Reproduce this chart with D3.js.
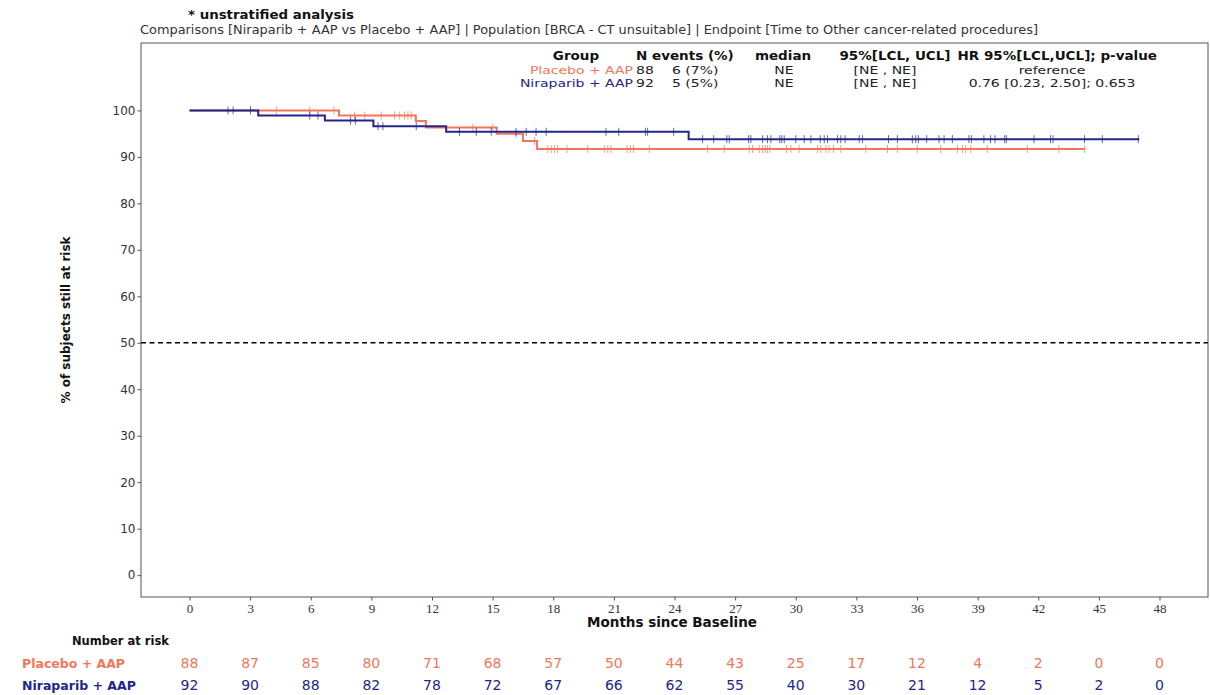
<!DOCTYPE html>
<html>
<head>
<meta charset="utf-8">
<title>Kaplan-Meier: Time to Other cancer-related procedures</title>
<script src="https://cdn.jsdelivr.net/npm/d3@7"></script>
<style>
  body { margin: 0; background: #fff; }
  svg { display: block; font-family: "DejaVu Sans", sans-serif; }
</style>
</head>
<body>
<script>
// ---- data ----
var months = [0, 3, 6, 9, 12, 15, 18, 21, 24, 27, 30, 33, 36, 39, 42, 45, 48];
var yTicks = [0, 10, 20, 30, 40, 50, 60, 70, 80, 90, 100];
var groups = ["Placebo + AAP", "Niraparib + AAP"];

var riskPlacebo   = [88, 87, 85, 80, 71, 68, 57, 50, 44, 43, 25, 17, 12, 4, 2, 0, 0];
var riskNiraparib = [92, 90, 88, 82, 78, 72, 67, 66, 62, 55, 40, 30, 21, 12, 5, 2, 0];

// step curves: event times and survival after each event (%)
var placeboTimes = [0, 7.4, 11.2, 11.7, 15.2, 16.5, 17.2];
var placeboSurv  = [100, 98.9, 97.7, 96.3, 95.0, 93.4, 91.7];
var placeboLast  = 44.3;
var niraparibTimes = [0, 3.4, 6.7, 9.1, 12.7, 24.7];
var niraparibSurv  = [100, 98.9, 97.8, 96.6, 95.4, 93.8];
var niraparibLast  = 47.0;

// censoring times
var placeboCensor = [4.3, 5.95, 7.15, 8.17, 8.67, 9.49, 10.15, 10.4, 10.64, 10.81, 10.97,
  14.02, 15.01, 16.16, 17.07, 17.73, 17.9, 18.06, 18.22, 18.68, 19.71, 20.53, 20.7, 20.86,
  21.65, 21.82, 21.98, 22.75, 25.64, 26.46, 27.7, 27.86, 28.19, 28.36, 28.49, 28.6, 28.72,
  29.54, 29.76, 30.17, 31.08, 31.24, 31.49, 31.65, 31.87, 32.23, 33.47, 34.54, 35.03, 36.02,
  37.17, 38.0, 38.25, 38.41, 38.66, 39.48, 41.46, 43.02, 44.3];
var niraparibCensor = [1.91, 2.16, 3.02, 5.95, 6.36, 7.97, 8.21, 9.33, 9.57, 11.22, 13.36,
  14.19, 14.93, 16.16, 16.66, 17.15, 17.65, 20.61, 21.24, 22.56, 22.67, 23.96, 25.39, 25.94,
  26.59, 26.71, 27.67, 27.78, 28.36, 28.6, 28.77, 29.21, 29.31, 29.43, 30.0, 30.42, 30.75,
  31.21, 31.41, 31.57, 32.07, 32.23, 32.44, 33.14, 33.3, 34.59, 35.03, 35.77, 35.94, 36.07,
  36.48, 37.09, 37.34, 37.75, 38.57, 38.69, 39.31, 39.64, 39.86, 40.34, 40.42, 41.79, 42.61,
  42.73, 44.29, 45.17, 46.95];

// summary table
var tableHeader = ["Group", "N events (%)", "median", "95%[LCL, UCL]", "HR 95%[LCL,UCL]; p-value"];
var tableN      = [88, 92];
var tableEvents = ["6 (7%)", "5 (5%)"];
var tableMedian = ["NE", "NE"];
var tableCI     = ["[NE , NE]", "[NE , NE]"];
var tableHR     = ["reference", "0.76 [0.23, 2.50]; 0.653"];

var orange = "#f2775a";
var navy = "#24248c";

var w = 1210, h = 695;
var svg = d3.select("body").append("svg").attr("width", w).attr("height", h);

var x = d3.scaleLinear().domain([-2.4, 50.4]).range([141, 1208]);
var y = d3.scaleLinear().domain([-4.7, 114.5]).range([597, 43]);

// stretch text horizontally (the reference type is wide but short)
function widen(sel, k) {
  sel.each(function() {
    var len = this.getComputedTextLength();
    d3.select(this).attr("textLength", len * k).attr("lengthAdjust", "spacingAndGlyphs");
  });
}

// frame
svg.append("rect")
  .attr("x", x.range()[0]).attr("y", y.range()[1])
  .attr("width", x.range()[1] - x.range()[0]).attr("height", y.range()[0] - y.range()[1])
  .attr("fill", "none").attr("stroke", "#555").attr("stroke-width", 1);

// axes
var yAxis = svg.append("g").attr("transform", "translate(" + x.range()[0] + ",0)")
  .call(d3.axisLeft(y).tickValues(yTicks).tickSize(3.5).tickPadding(2));
yAxis.select(".domain").remove();
yAxis.selectAll("text").attr("font-family", "DejaVu Sans").attr("font-size", 12).attr("fill", "#333");
yAxis.selectAll("line").attr("stroke", "#555");

var xAxis = svg.append("g").attr("transform", "translate(0," + y.range()[0] + ")")
  .call(d3.axisBottom(x).tickValues(months).tickSize(3.5).tickPadding(3));
xAxis.select(".domain").remove();
xAxis.selectAll("text").attr("font-family", "Liberation Serif").attr("font-size", 13).attr("fill", "#333");
xAxis.selectAll("line").attr("stroke", "#555");

// 50% reference line
svg.append("line")
  .attr("x1", x.range()[0]).attr("x2", x.range()[1])
  .attr("y1", y(50)).attr("y2", y(50))
  .attr("stroke", "#000").attr("stroke-width", 1.5).attr("stroke-dasharray", "5,3.5");

// KM step curves
function stepData(times, surv, last) {
  var pts = times.map(function(t, i) { return [t, surv[i]]; });
  pts.push([last, surv[surv.length - 1]]);
  return pts;
}
function survAt(times, surv, t) {
  var v = surv[0];
  for (var i = 0; i < times.length; i++) { if (times[i] <= t) v = surv[i]; }
  return v;
}
var line = d3.line().x(function(d) { return x(d[0]); }).y(function(d) { return y(d[1]); })
  .curve(d3.curveStepAfter);

var curves = [
  { times: placeboTimes, surv: placeboSurv, last: placeboLast, censor: placeboCensor, color: orange },
  { times: niraparibTimes, surv: niraparibSurv, last: niraparibLast, censor: niraparibCensor, color: navy }
];

curves.forEach(function(c) {
  svg.append("path")
    .datum(stepData(c.times, c.surv, c.last))
    .attr("d", line)
    .attr("fill", "none").attr("stroke", c.color).attr("stroke-width", 2);
  svg.append("g").selectAll("line")
    .data(c.censor)
    .enter().append("line")
    .attr("x1", function(d) { return x(d); }).attr("x2", function(d) { return x(d); })
    .attr("y1", function(d) { return y(survAt(c.times, c.surv, d)) - 4; })
    .attr("y2", function(d) { return y(survAt(c.times, c.surv, d)) + 4; })
    .attr("stroke", c.color).attr("stroke-width", 1).attr("opacity", 0.7);
});

// titles
svg.append("text").attr("x", 188).attr("y", 19)
  .attr("font-size", 11.5).attr("font-weight", "bold").attr("fill", "#111")
  .attr("textLength", 166).attr("lengthAdjust", "spacingAndGlyphs")
  .text("* unstratified analysis");
svg.append("text").attr("x", 140).attr("y", 34)
  .attr("font-size", 12).attr("fill", "#333")
  .attr("textLength", 898).attr("lengthAdjust", "spacingAndGlyphs")
  .text("Comparisons [Niraparib + AAP vs Placebo + AAP] | Population [BRCA - CT unsuitable] | Endpoint [Time to Other cancer-related procedures]");

// summary table (top right)
var hdr = svg.append("g").attr("font-size", 12).attr("font-weight", "bold").attr("fill", "#111");
var hdrX = [576, 636, 783, 895, 1157];
var hdrAnchor = ["middle", "start", "middle", "middle", "end"];
tableHeader.forEach(function(t, i) {
  hdr.append("text").attr("x", hdrX[i]).attr("y", 60).attr("text-anchor", hdrAnchor[i]).text(t);
});
widen(hdr.selectAll("text"), 1.125);

var rowY = [74, 86.5];
[orange, navy].forEach(function(col, r) {
  var g = svg.append("g").attr("font-size", 11).attr("fill", "#222");
  g.append("text").attr("x", 633).attr("y", rowY[r]).attr("text-anchor", "end").attr("fill", col).text(groups[r]);
  g.append("text").attr("x", 636).attr("y", rowY[r]).text(tableN[r]);
  g.append("text").attr("x", 672).attr("y", rowY[r]).text(tableEvents[r]);
  g.append("text").attr("x", 784).attr("y", rowY[r]).attr("text-anchor", "middle").text(tableMedian[r]);
  g.append("text").attr("x", 885).attr("y", rowY[r]).attr("text-anchor", "middle").text(tableCI[r]);
  g.append("text").attr("x", 1052).attr("y", rowY[r]).attr("text-anchor", "middle").text(tableHR[r]);
  widen(g.selectAll("text"), 1.27);
});

// axis titles
svg.append("text")
  .attr("transform", "translate(70," + ((y.range()[0] + y.range()[1]) / 2) + ") rotate(-90)")
  .attr("text-anchor", "middle").attr("font-size", 12).attr("font-weight", "bold").attr("fill", "#111")
  .text("% of subjects still at risk");
svg.append("text").attr("x", 672).attr("y", 627)
  .attr("text-anchor", "middle").attr("font-size", 13.5).attr("font-weight", "bold").attr("fill", "#111")
  .text("Months since Baseline");

// number at risk table
svg.append("text").attr("x", 72).attr("y", 645)
  .attr("font-size", 11.5).attr("font-weight", "bold").attr("fill", "#111").text("Number at risk");
var riskRows = [riskPlacebo, riskNiraparib];
var riskY = [668, 690];
[orange, navy].forEach(function(col, r) {
  svg.append("text").attr("x", 22).attr("y", riskY[r])
    .attr("font-size", 12.5).attr("font-weight", "bold").attr("fill", col).text(groups[r]);
  svg.append("g").selectAll("text")
    .data(riskRows[r])
    .enter().append("text")
    .attr("x", function(d, i) { return x(months[i]); })
    .attr("y", riskY[r])
    .attr("text-anchor", "middle").attr("font-size", 14).attr("fill", col)
    .text(function(d) { return d; });
});
</script>
</body>
</html>
